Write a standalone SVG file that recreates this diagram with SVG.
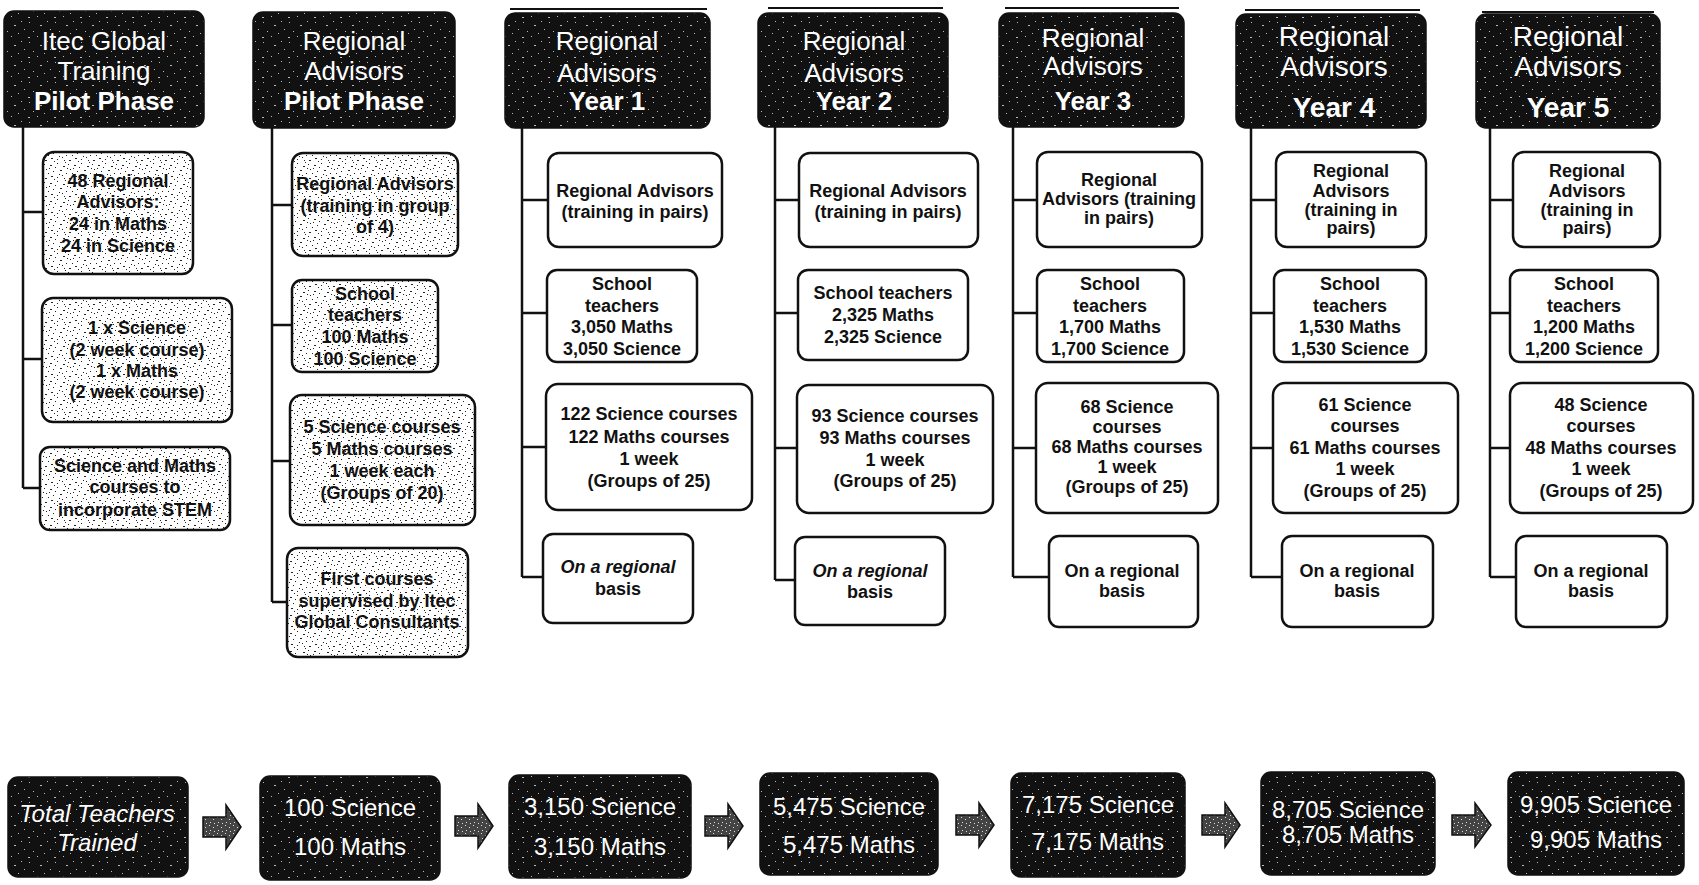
<svg xmlns="http://www.w3.org/2000/svg" width="1699" height="885" viewBox="0 0 1699 885">
<style>
.hdr{fill:url(#dk);stroke:#111;stroke-width:1.5}
.ht{font-family:"Liberation Sans",Arial,sans-serif;fill:#fff;font-size:26px;text-anchor:middle}
.ht28{font-size:28px}
.b{font-weight:bold}
.box{fill:#fff;stroke:#111;stroke-width:2.5}
.pbox{fill:url(#lt);stroke:#111;stroke-width:2.5}
.t{font-family:"Liberation Sans",Arial,sans-serif;font-weight:bold;font-size:18px;text-anchor:middle;fill:#111}
.i{font-style:italic}
.tot{fill:url(#dk);stroke:#111;stroke-width:1.5}
.tt{font-family:"Liberation Sans",Arial,sans-serif;fill:#fff;font-size:24px;text-anchor:middle}
.arr{fill:url(#md);stroke:#111;stroke-width:1.5}
.topl{stroke:#111;stroke-width:2}
#connectors path{stroke:#111;stroke-width:2.5;fill:none}
</style>
<defs>
<pattern id="lt" patternUnits="userSpaceOnUse" width="24" height="18">
<rect width="24" height="18" fill="#fff"/>
<g fill="#222">
<rect x="2" y="3" width="2" height="1"/><rect x="9" y="1" width="1" height="1"/><rect x="15" y="4" width="2" height="1"/><rect x="20" y="2" width="1" height="1"/>
<rect x="5" y="9" width="1" height="1"/><rect x="12" y="8" width="2" height="1"/><rect x="18" y="11" width="1" height="1"/><rect x="3" y="14" width="2" height="1"/>
<rect x="9" y="15" width="1" height="1"/><rect x="14" y="13" width="1" height="1"/><rect x="21" y="16" width="2" height="1"/><rect x="7" y="5" width="1" height="1"/>
<rect x="22" y="7" width="1" height="1"/><rect x="0" y="11" width="1" height="1"/><rect x="11" y="12" width="1" height="1"/><rect x="17" y="0" width="1" height="1"/>
<rect x="6" y="17" width="1" height="1"/><rect x="16" y="16" width="1" height="1"/><rect x="1" y="6" width="1" height="1"/><rect x="19" y="6" width="1" height="1"/>
</g>
</pattern>
<pattern id="dk" patternUnits="userSpaceOnUse" width="26" height="20">
<rect width="26" height="20" fill="#111"/>
<g fill="#bbb">
<rect x="3" y="2" width="1" height="1"/><rect x="14" y="5" width="2" height="1"/><rect x="21" y="1" width="1" height="1"/><rect x="7" y="11" width="1" height="1"/>
<rect x="18" y="13" width="1" height="1"/><rect x="2" y="17" width="2" height="1"/><rect x="11" y="16" width="1" height="1"/><rect x="24" y="9" width="1" height="1"/>
</g>
</pattern>
<pattern id="md" patternUnits="userSpaceOnUse" width="8" height="8">
<rect width="8" height="8" fill="#444"/>
<rect x="1" y="1" width="1" height="1" fill="#ddd"/><rect x="5" y="3" width="1" height="1" fill="#ddd"/><rect x="2" y="6" width="1" height="1" fill="#ddd"/><rect x="6" y="7" width="1" height="1" fill="#ddd"/>
</pattern>
</defs>
<rect width="1699" height="885" fill="#fff"/>

<g id="toplines">
<line class="topl" x1="510" y1="9" x2="707" y2="9"/>
<line class="topl" x1="768" y1="8" x2="943" y2="8"/>
<line class="topl" x1="1005" y1="8" x2="1179" y2="8"/>
<line class="topl" x1="1245" y1="10" x2="1420" y2="10"/>
<line class="topl" x1="1482" y1="12" x2="1654" y2="12"/>
</g>

<g id="connectors">
<path d="M23 127V488M23 212H43M23 359H42M23 488H40"/>
<path d="M272 128V602M272 205H292M272 325H292M272 461H290M272 602H287"/>
<path d="M522 128V577M522 200H548M522 313H547M522 447H546M522 577H543"/>
<path d="M775 127V580M775 200H799M775 313H798M775 448H797M775 580H795"/>
<path d="M1013 127V577M1013 200H1037M1013 313H1037M1013 448H1036M1013 577H1049"/>
<path d="M1251 128V577M1251 200H1276M1251 313H1274M1251 448H1273M1251 577H1282"/>
<path d="M1490 128V577M1490 200H1513M1490 313H1510M1490 448H1510M1490 577H1516"/>
</g>

<g id="h-itec">
<rect class="hdr" x="4" y="11" width="200" height="116" rx="10"/>
<text class="ht" x="104" y="50">Itec Global</text>
<text class="ht" x="104" y="80">Training</text>
<text class="ht b" x="104" y="110">Pilot Phase</text>
</g>
<g id="h-pilot">
<rect class="hdr" x="253" y="12" width="202" height="116" rx="10"/>
<text class="ht" x="354" y="50">Regional</text>
<text class="ht" x="354" y="80">Advisors</text>
<text class="ht b" x="354" y="110">Pilot Phase</text>
</g>
<g id="h-y1">
<rect class="hdr" x="505" y="13" width="205" height="115" rx="10"/>
<text class="ht" x="607" y="50">Regional</text>
<text class="ht" x="607" y="82">Advisors</text>
<text class="ht b" x="607" y="110">Year 1</text>
</g>
<g id="h-y2">
<rect class="hdr" x="758" y="13" width="190" height="114" rx="10"/>
<text class="ht" x="854" y="50">Regional</text>
<text class="ht" x="854" y="82">Advisors</text>
<text class="ht b" x="854" y="110">Year 2</text>
</g>
<g id="h-y3">
<rect class="hdr" x="999" y="13" width="185" height="114" rx="10"/>
<text class="ht" x="1093" y="47">Regional</text>
<text class="ht" x="1093" y="75">Advisors</text>
<text class="ht b" x="1093" y="110">Year 3</text>
</g>
<g id="h-y4">
<rect class="hdr" x="1236" y="14" width="190" height="114" rx="10"/>
<text class="ht ht28" x="1334" y="46">Regional</text>
<text class="ht ht28" x="1334" y="76">Advisors</text>
<text class="ht ht28 b" x="1334" y="117">Year 4</text>
</g>
<g id="h-y5">
<rect class="hdr" x="1476" y="14" width="184" height="114" rx="10"/>
<text class="ht ht28" x="1568" y="46">Regional</text>
<text class="ht ht28" x="1568" y="76">Advisors</text>
<text class="ht ht28 b" x="1568" y="117">Year 5</text>
</g>

<g id="c1-advisors">
<rect class="pbox" x="43" y="152" width="150" height="122" rx="11"/>
<text class="t" x="118" y="187">48 Regional</text>
<text class="t" x="118" y="208">Advisors:</text>
<text class="t" x="118" y="230">24 in Maths</text>
<text class="t" x="118" y="252">24 in Science</text>
</g>
<g id="c1-courses">
<rect class="pbox" x="42" y="298" width="190" height="124" rx="11"/>
<text class="t" x="137" y="334">1 x Science</text>
<text class="t" x="137" y="356">(2 week course)</text>
<text class="t" x="137" y="377">1 x Maths</text>
<text class="t" x="137" y="398">(2 week course)</text>
</g>
<g id="c1-stem">
<rect class="pbox" x="40" y="447" width="190" height="83" rx="10"/>
<text class="t" x="135" y="472">Science and Maths</text>
<text class="t" x="135" y="493">courses to</text>
<text class="t" x="135" y="516">incorporate STEM</text>
</g>

<g id="c2-advisors">
<rect class="pbox" x="292" y="153" width="166" height="103" rx="11"/>
<text class="t" x="375" y="190">Regional Advisors</text>
<text class="t" x="375" y="212">(training in group</text>
<text class="t" x="375" y="233">of 4)</text>
</g>
<g id="c2-teachers">
<rect class="pbox" x="292" y="280" width="146" height="92" rx="10"/>
<text class="t" x="365" y="300">School</text>
<text class="t" x="365" y="321">teachers</text>
<text class="t" x="365" y="343">100 Maths</text>
<text class="t" x="365" y="365">100 Science</text>
</g>
<g id="c2-courses">
<rect class="pbox" x="290" y="395" width="185" height="130" rx="12"/>
<text class="t" x="382" y="433">5 Science courses</text>
<text class="t" x="382" y="455">5 Maths courses</text>
<text class="t" x="382" y="477">1 week each</text>
<text class="t" x="382" y="499">(Groups of 20)</text>
</g>
<g id="c2-first">
<rect class="pbox" x="287" y="548" width="181" height="109" rx="11"/>
<text class="t" x="377" y="585">First courses</text>
<text class="t" x="377" y="607">supervised by Itec</text>
<text class="t" x="377" y="628">Global Consultants</text>
</g>

<g id="y1-advisors">
<rect class="box" x="548" y="153" width="174" height="94" rx="11"/>
<text class="t" x="635" y="197">Regional Advisors</text>
<text class="t" x="635" y="218">(training in pairs)</text>
</g>
<g id="y1-teachers">
<rect class="box" x="547" y="270" width="150" height="92" rx="10"/>
<text class="t" x="622" y="290">School</text>
<text class="t" x="622" y="312">teachers</text>
<text class="t" x="622" y="333">3,050 Maths</text>
<text class="t" x="622" y="355">3,050 Science</text>
</g>
<g id="y1-courses">
<rect class="box" x="546" y="384" width="206" height="126" rx="12"/>
<text class="t" x="649" y="420">122 Science courses</text>
<text class="t" x="649" y="443">122 Maths courses</text>
<text class="t" x="649" y="465">1 week</text>
<text class="t" x="649" y="487">(Groups of 25)</text>
</g>
<g id="y1-regional">
<rect class="box" x="543" y="534" width="150" height="89" rx="10"/>
<text class="t i" x="618" y="573">On a regional</text>
<text class="t" x="618" y="595">basis</text>
</g>

<g id="y2-advisors">
<rect class="box" x="799" y="153" width="179" height="94" rx="11"/>
<text class="t" x="888" y="197">Regional Advisors</text>
<text class="t" x="888" y="218">(training in pairs)</text>
</g>
<g id="y2-teachers">
<rect class="box" x="798" y="270" width="170" height="90" rx="10"/>
<text class="t" x="883" y="299">School teachers</text>
<text class="t" x="883" y="321">2,325 Maths</text>
<text class="t" x="883" y="343">2,325 Science</text>
</g>
<g id="y2-courses">
<rect class="box" x="797" y="385" width="196" height="128" rx="12"/>
<text class="t" x="895" y="422">93 Science courses</text>
<text class="t" x="895" y="444">93 Maths courses</text>
<text class="t" x="895" y="466">1 week</text>
<text class="t" x="895" y="487">(Groups of 25)</text>
</g>
<g id="y2-regional">
<rect class="box" x="795" y="537" width="150" height="88" rx="10"/>
<text class="t i" x="870" y="577">On a regional</text>
<text class="t" x="870" y="598">basis</text>
</g>

<g id="y3-advisors">
<rect class="box" x="1037" y="152" width="165" height="95" rx="11"/>
<text class="t" x="1119" y="186">Regional</text>
<text class="t" x="1119" y="205">Advisors (training</text>
<text class="t" x="1119" y="224">in pairs)</text>
</g>
<g id="y3-teachers">
<rect class="box" x="1037" y="270" width="147" height="92" rx="10"/>
<text class="t" x="1110" y="290">School</text>
<text class="t" x="1110" y="312">teachers</text>
<text class="t" x="1110" y="333">1,700 Maths</text>
<text class="t" x="1110" y="355">1,700 Science</text>
</g>
<g id="y3-courses">
<rect class="box" x="1036" y="383" width="182" height="130" rx="12"/>
<text class="t" x="1127" y="413">68 Science</text>
<text class="t" x="1127" y="433">courses</text>
<text class="t" x="1127" y="453">68 Maths courses</text>
<text class="t" x="1127" y="473">1 week</text>
<text class="t" x="1127" y="493">(Groups of 25)</text>
</g>
<g id="y3-regional">
<rect class="box" x="1049" y="536" width="149" height="91" rx="10"/>
<text class="t" x="1122" y="577">On a regional</text>
<text class="t" x="1122" y="597">basis</text>
</g>

<g id="y4-advisors">
<rect class="box" x="1276" y="152" width="150" height="95" rx="11"/>
<text class="t" x="1351" y="177">Regional</text>
<text class="t" x="1351" y="197">Advisors</text>
<text class="t" x="1351" y="216">(training in</text>
<text class="t" x="1351" y="234">pairs)</text>
</g>
<g id="y4-teachers">
<rect class="box" x="1274" y="270" width="152" height="92" rx="10"/>
<text class="t" x="1350" y="290">School</text>
<text class="t" x="1350" y="312">teachers</text>
<text class="t" x="1350" y="333">1,530 Maths</text>
<text class="t" x="1350" y="355">1,530 Science</text>
</g>
<g id="y4-courses">
<rect class="box" x="1273" y="383" width="185" height="130" rx="12"/>
<text class="t" x="1365" y="411">61 Science</text>
<text class="t" x="1365" y="432">courses</text>
<text class="t" x="1365" y="454">61 Maths courses</text>
<text class="t" x="1365" y="475">1 week</text>
<text class="t" x="1365" y="497">(Groups of 25)</text>
</g>
<g id="y4-regional">
<rect class="box" x="1282" y="536" width="151" height="91" rx="10"/>
<text class="t" x="1357" y="577">On a regional</text>
<text class="t" x="1357" y="597">basis</text>
</g>

<g id="y5-advisors">
<rect class="box" x="1513" y="152" width="147" height="95" rx="11"/>
<text class="t" x="1587" y="177">Regional</text>
<text class="t" x="1587" y="197">Advisors</text>
<text class="t" x="1587" y="216">(training in</text>
<text class="t" x="1587" y="234">pairs)</text>
</g>
<g id="y5-teachers">
<rect class="box" x="1510" y="270" width="148" height="92" rx="10"/>
<text class="t" x="1584" y="290">School</text>
<text class="t" x="1584" y="312">teachers</text>
<text class="t" x="1584" y="333">1,200 Maths</text>
<text class="t" x="1584" y="355">1,200 Science</text>
</g>
<g id="y5-courses">
<rect class="box" x="1510" y="383" width="183" height="130" rx="12"/>
<text class="t" x="1601" y="411">48 Science</text>
<text class="t" x="1601" y="432">courses</text>
<text class="t" x="1601" y="454">48 Maths courses</text>
<text class="t" x="1601" y="475">1 week</text>
<text class="t" x="1601" y="497">(Groups of 25)</text>
</g>
<g id="y5-regional">
<rect class="box" x="1516" y="536" width="151" height="91" rx="10"/>
<text class="t" x="1591" y="577">On a regional</text>
<text class="t" x="1591" y="597">basis</text>
</g>

<g id="arrows">
<path class="arr" d="M203 817H226V805L241 827L226 849V837H203Z"/>
<path class="arr" d="M455 816H478V804L493 826L478 848V836H455Z"/>
<path class="arr" d="M705 816H728V804L743 826L728 848V836H705Z"/>
<path class="arr" d="M956 815H979V803L994 825L979 847V835H956Z"/>
<path class="arr" d="M1202 815H1225V803L1240 825L1225 847V835H1202Z"/>
<path class="arr" d="M1452 815H1475V803L1491 825L1475 847V835H1452Z"/>
</g>

<g id="t-total">
<rect class="tot" x="8" y="777" width="180" height="100" rx="10"/>
<text class="tt i" x="97" y="822">Total Teachers</text>
<text class="tt i" x="97" y="851">Trained</text>
</g>
<g id="t-pilot">
<rect class="tot" x="260" y="776" width="180" height="104" rx="10"/>
<text class="tt" x="350" y="816">100 Science</text>
<text class="tt" x="350" y="855">100 Maths</text>
</g>
<g id="t-y1">
<rect class="tot" x="509" y="775" width="182" height="103" rx="10"/>
<text class="tt" x="600" y="815">3,150 Science</text>
<text class="tt" x="600" y="855">3,150 Maths</text>
</g>
<g id="t-y2">
<rect class="tot" x="760" y="773" width="178" height="102" rx="10"/>
<text class="tt" x="849" y="815">5,475 Science</text>
<text class="tt" x="849" y="853">5,475 Maths</text>
</g>
<g id="t-y3">
<rect class="tot" x="1011" y="773" width="174" height="104" rx="10"/>
<text class="tt" x="1098" y="813">7,175 Science</text>
<text class="tt" x="1098" y="850">7,175 Maths</text>
</g>
<g id="t-y4">
<rect class="tot" x="1261" y="772" width="174" height="103" rx="10"/>
<text class="tt" x="1348" y="818">8,705 Science</text>
<text class="tt" x="1348" y="843">8,705 Maths</text>
</g>
<g id="t-y5">
<rect class="tot" x="1508" y="772" width="176" height="103" rx="10"/>
<text class="tt" x="1596" y="813">9,905 Science</text>
<text class="tt" x="1596" y="848">9,905 Maths</text>
</g>
</svg>
